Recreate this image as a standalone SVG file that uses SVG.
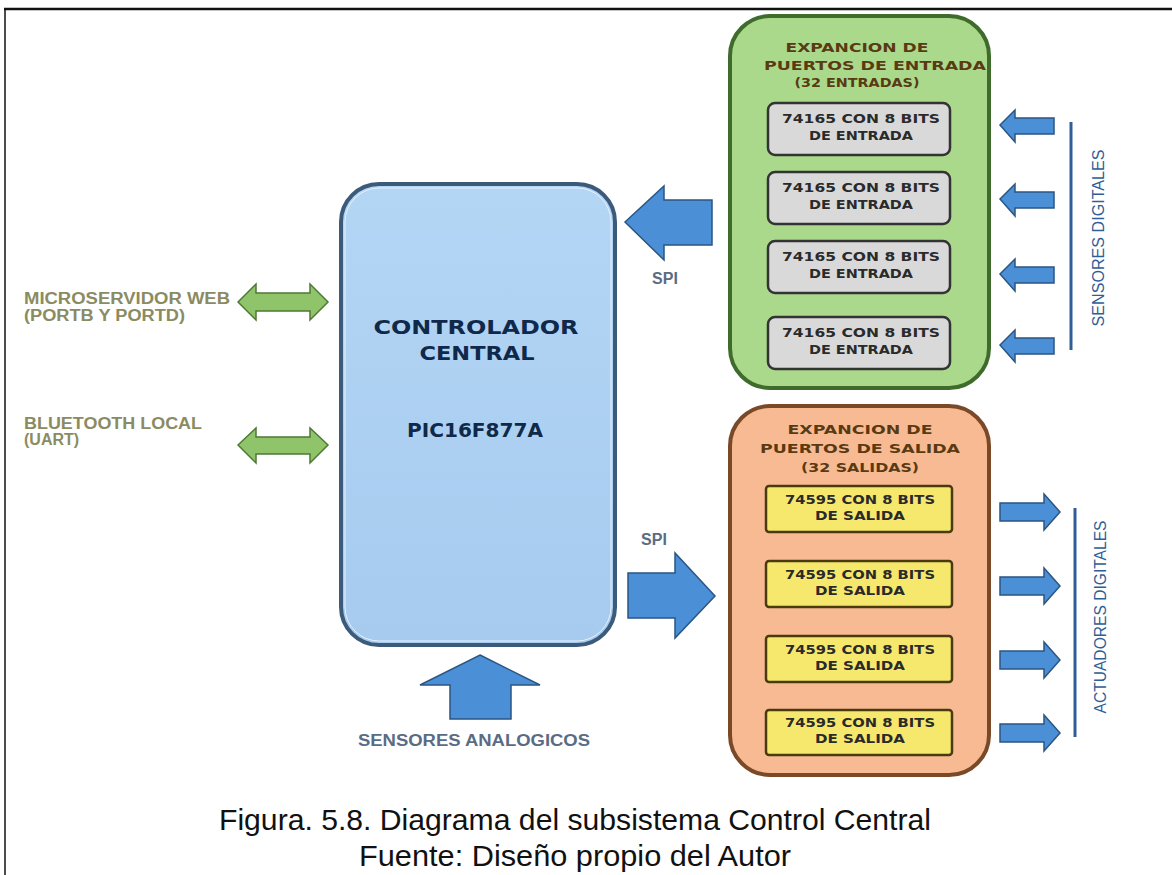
<svg xmlns="http://www.w3.org/2000/svg" width="1172" height="875" viewBox="0 0 1172 875">
<defs>
<style>
.t{font-family:"DejaVu Sans",sans-serif;font-weight:bold;text-anchor:middle}
.ttl{font-size:13px;fill:#5a3a12}
.inb{font-size:12px;fill:#2a2a2a}
.lbl{font-family:"Liberation Sans",Arial,sans-serif;font-weight:bold;font-size:16px;fill:#8b8b62}
.side{font-family:"Liberation Sans",Arial,sans-serif;font-size:16px;fill:#2f5e96;text-anchor:middle}
.blueArr{fill:#4b8fd6;stroke:#2b5684;stroke-width:1.5}
.greenArr{fill:#8fc46a;stroke:#4e7a35;stroke-width:1.5}
.gbox{fill:#d9d9d9;stroke:#333;stroke-width:2.5}
.ybox{fill:#f6e86c;stroke:#4a3a10;stroke-width:2.5}
.ctl{font-family:"DejaVu Sans",sans-serif;font-weight:bold;text-anchor:middle;fill:#10294a}
</style>
<linearGradient id="gBlue" x1="0" y1="0" x2="0" y2="1"><stop offset="0" stop-color="#b4d6f5"/><stop offset="1" stop-color="#a6cbef"/></linearGradient>
</defs>
<rect width="1172" height="875" fill="#ffffff"/>
<g id="frame" stroke="#111" fill="none">
<line x1="4" y1="9" x2="1172" y2="9" stroke-width="2.5"/>
<line x1="5" y1="9" x2="5" y2="875" stroke-width="1.5"/>
</g>
<g id="controlador">
<rect x="341" y="184" width="274" height="461" rx="38" fill="url(#gBlue)" stroke="#3c5a7a" stroke-width="4"/>
<rect x="345" y="188" width="266" height="453" rx="34" fill="none" stroke="#e6f0fa" stroke-width="1"/>
<text class="ctl" x="476" y="334" font-size="19" textLength="205" lengthAdjust="spacingAndGlyphs">CONTROLADOR</text>
<text class="ctl" x="477" y="360" font-size="19" textLength="115" lengthAdjust="spacingAndGlyphs">CENTRAL</text>
<text class="ctl" x="475" y="437" font-size="19" textLength="136" lengthAdjust="spacingAndGlyphs">PIC16F877A</text>
</g>
<g id="entrada">
<rect x="730" y="16" width="259" height="372" rx="40" fill="#aad98c" stroke="#3f6b2c" stroke-width="4"/>
<text class="t ttl" x="857" y="52" textLength="143" lengthAdjust="spacingAndGlyphs">EXPANCION DE</text>
<text class="t ttl" x="875" y="70" textLength="222" lengthAdjust="spacingAndGlyphs">PUERTOS DE ENTRADA</text>
<text class="t ttl" x="857" y="87" textLength="125" lengthAdjust="spacingAndGlyphs">(32 ENTRADAS)</text>
<g id="in1"><rect class="gbox" x="768" y="103" width="182" height="52" rx="7"/><text class="t inb" x="861" y="123" textLength="158" lengthAdjust="spacingAndGlyphs">74165 CON 8 BITS</text><text class="t inb" x="861" y="140" textLength="104" lengthAdjust="spacingAndGlyphs">DE ENTRADA</text></g>
<g id="in2"><rect class="gbox" x="768" y="172" width="182" height="52" rx="7"/><text class="t inb" x="861" y="192" textLength="158" lengthAdjust="spacingAndGlyphs">74165 CON 8 BITS</text><text class="t inb" x="861" y="209" textLength="104" lengthAdjust="spacingAndGlyphs">DE ENTRADA</text></g>
<g id="in3"><rect class="gbox" x="768" y="241" width="182" height="52" rx="7"/><text class="t inb" x="861" y="261" textLength="158" lengthAdjust="spacingAndGlyphs">74165 CON 8 BITS</text><text class="t inb" x="861" y="278" textLength="104" lengthAdjust="spacingAndGlyphs">DE ENTRADA</text></g>
<g id="in4"><rect class="gbox" x="768" y="317" width="182" height="52" rx="7"/><text class="t inb" x="861" y="337" textLength="158" lengthAdjust="spacingAndGlyphs">74165 CON 8 BITS</text><text class="t inb" x="861" y="354" textLength="104" lengthAdjust="spacingAndGlyphs">DE ENTRADA</text></g>
</g>
<g id="salida">
<rect x="730" y="406" width="259" height="369" rx="40" fill="#f8ba92" stroke="#7a4a28" stroke-width="4"/>
<text class="t ttl" x="860" y="434" textLength="145" lengthAdjust="spacingAndGlyphs">EXPANCION DE</text>
<text class="t ttl" x="860" y="453" textLength="200" lengthAdjust="spacingAndGlyphs">PUERTOS DE SALIDA</text>
<text class="t ttl" x="860" y="472" textLength="118" lengthAdjust="spacingAndGlyphs">(32 SALIDAS)</text>
<g id="out1"><rect class="ybox" x="766" y="486" width="186" height="46" rx="3"/><text class="t inb" x="860" y="504" textLength="150" lengthAdjust="spacingAndGlyphs">74595 CON 8 BITS</text><text class="t inb" x="860" y="520" textLength="90" lengthAdjust="spacingAndGlyphs">DE SALIDA</text></g>
<g id="out2"><rect class="ybox" x="766" y="561" width="186" height="46" rx="3"/><text class="t inb" x="860" y="579" textLength="150" lengthAdjust="spacingAndGlyphs">74595 CON 8 BITS</text><text class="t inb" x="860" y="595" textLength="90" lengthAdjust="spacingAndGlyphs">DE SALIDA</text></g>
<g id="out3"><rect class="ybox" x="766" y="636" width="186" height="46" rx="3"/><text class="t inb" x="860" y="654" textLength="150" lengthAdjust="spacingAndGlyphs">74595 CON 8 BITS</text><text class="t inb" x="860" y="670" textLength="90" lengthAdjust="spacingAndGlyphs">DE SALIDA</text></g>
<g id="out4"><rect class="ybox" x="766" y="710" width="186" height="45" rx="3"/><text class="t inb" x="860" y="727" textLength="150" lengthAdjust="spacingAndGlyphs">74595 CON 8 BITS</text><text class="t inb" x="860" y="743" textLength="90" lengthAdjust="spacingAndGlyphs">DE SALIDA</text></g>
</g>
<g id="labels">
<text class="lbl" x="24" y="304" textLength="206" lengthAdjust="spacingAndGlyphs">MICROSERVIDOR WEB</text>
<text class="lbl" x="24" y="321" textLength="161" lengthAdjust="spacingAndGlyphs">(PORTB Y PORTD)</text>
<text class="lbl" x="24" y="429" textLength="178" lengthAdjust="spacingAndGlyphs">BLUETOOTH LOCAL</text>
<text class="lbl" x="24" y="445">(UART)</text>
<text class="side" transform="translate(1104,238) rotate(-90)" textLength="177" lengthAdjust="spacingAndGlyphs">SENSORES  DIGITALES</text>
<text class="side" transform="translate(1106,617) rotate(-90)" textLength="193" lengthAdjust="spacingAndGlyphs">ACTUADORES  DIGITALES</text>
<text class="lbl" x="474" y="746" text-anchor="middle" style="fill:#5a6c84" font-size="15" textLength="232" lengthAdjust="spacingAndGlyphs">SENSORES ANALOGICOS</text>
<text class="lbl" x="665" y="284" text-anchor="middle" style="fill:#5a6c84" font-size="14">SPI</text>
<text class="lbl" x="654" y="545" text-anchor="middle" style="fill:#5a6c84" font-size="14">SPI</text>
</g>
<g id="connectors">
<path class="greenArr" d="M238,302 L256,284 L256,293 L310,293 L310,284 L328,302 L310,320 L310,311 L256,311 L256,320 Z"/>
<path class="greenArr" d="M238,445 L256,428 L256,437 L310,437 L310,428 L328,445 L310,463 L310,454 L256,454 L256,463 Z"/>
<path class="blueArr" d="M625,222 L664,186 L664,200 L712,200 L712,245 L664,245 L664,260 Z"/>
<path class="blueArr" d="M628,573 L675,573 L675,553 L715,596 L675,638 L675,618 L628,618 Z"/>
<path class="blueArr" d="M480,655 L540,685 L511,685 L511,719 L450,719 L450,685 L420,685 Z"/>
<path class="blueArr" d="M1000,125 L1015,110 L1015,118 L1054,118 L1054,134 L1015,134 L1015,142 Z"/>
<path class="blueArr" d="M1000,199 L1015,184 L1015,192 L1054,192 L1054,208 L1015,208 L1015,216 Z"/>
<path class="blueArr" d="M1000,274 L1015,259 L1015,267 L1054,267 L1054,283 L1015,283 L1015,291 Z"/>
<path class="blueArr" d="M1000,345 L1015,330 L1015,338 L1054,338 L1054,354 L1015,354 L1015,362 Z"/>
<line x1="1071" y1="122" x2="1071" y2="350" stroke="#2f5e96" stroke-width="3"/>
<path class="blueArr" d="M1000,503 L1044,503 L1044,494 L1060,512 L1044,530 L1044,521 L1000,521 Z"/>
<path class="blueArr" d="M1000,577 L1044,577 L1044,568 L1060,586 L1044,604 L1044,595 L1000,595 Z"/>
<path class="blueArr" d="M1000,651 L1044,651 L1044,642 L1060,660 L1044,678 L1044,669 L1000,669 Z"/>
<path class="blueArr" d="M1000,724 L1044,724 L1044,715 L1060,733 L1044,751 L1044,742 L1000,742 Z"/>
<line x1="1075" y1="508" x2="1075" y2="737" stroke="#2f5e96" stroke-width="3"/>
</g>
<g id="caption" font-family="Liberation Sans, Arial, sans-serif" font-size="30" fill="#111" text-anchor="middle">
<text x="575" y="830" textLength="712" lengthAdjust="spacingAndGlyphs">Figura. 5.8. Diagrama del subsistema Control Central</text>
<text x="575" y="866" textLength="432" lengthAdjust="spacingAndGlyphs">Fuente: Diseño propio del Autor</text>
</g>
</svg>
